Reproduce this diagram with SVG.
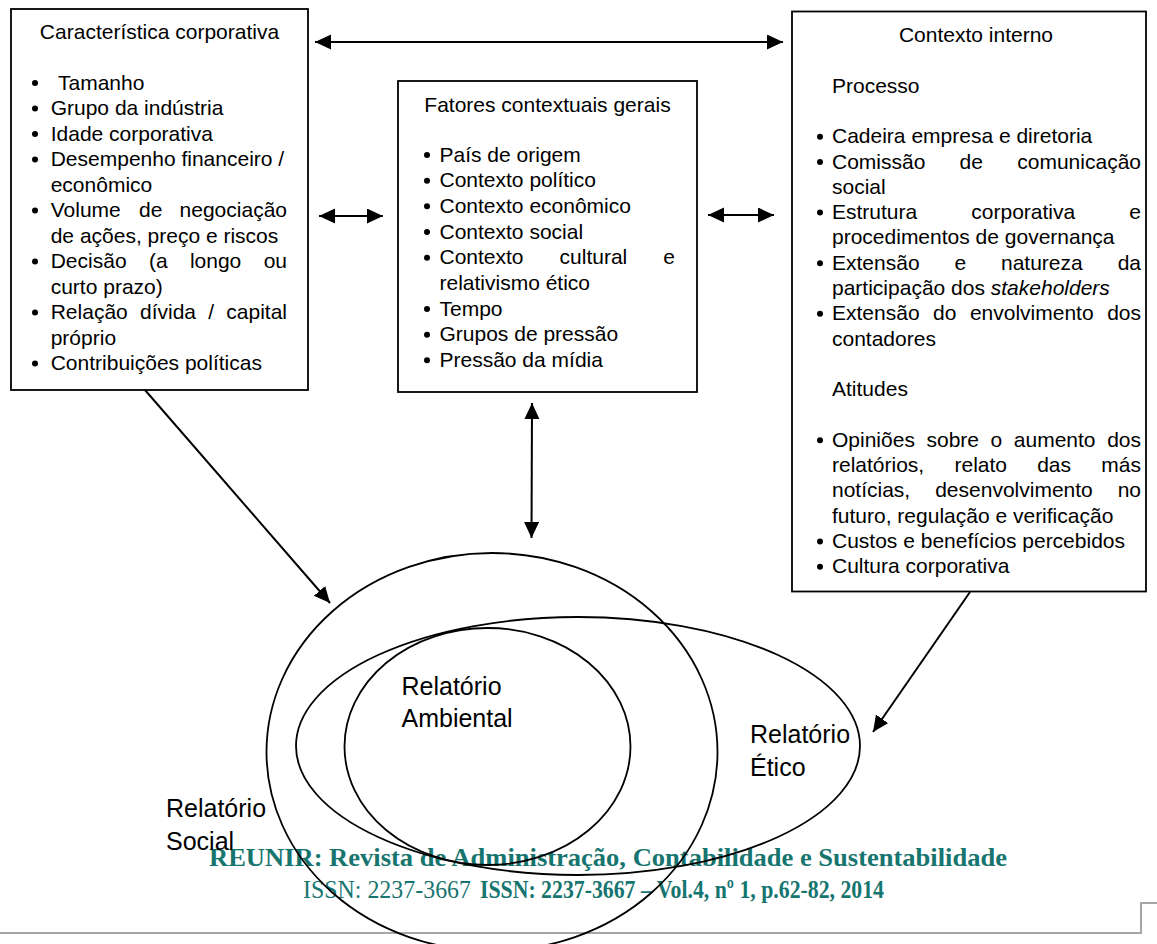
<svg xmlns="http://www.w3.org/2000/svg" width="1157" height="944" viewBox="0 0 1157 944">
<style>
.t{font-family:"Liberation Sans",Arial,sans-serif;font-size:21px;fill:#000}
.lbl{font-family:"Liberation Sans",Arial,sans-serif;font-size:25px;fill:#000}
.box{fill:#fff;stroke:#000;stroke-width:1.8}
.b{fill:#000}
.shape{fill:none;stroke:#000;stroke-width:1.8}
.conn{fill:none;stroke:#000;stroke-width:2}
.foot{font-family:"Liberation Serif","Times New Roman",serif;font-size:26px;fill:#17756f}
</style>
<defs>
<marker id="ah" markerUnits="userSpaceOnUse" markerWidth="17" markerHeight="16" refX="16" refY="7.5" orient="auto-start-reverse" viewBox="0 0 17 16">
<path d="M0,0 L16,7.5 L0,15 z" fill="#000"/>
</marker>
</defs>
<rect width="1157" height="944" fill="#fff"/>

<g id="node-caracteristica">
<rect class="box" x="11" y="9" width="297" height="381"/>
<text class="t" x="159.5" y="39" text-anchor="middle">Característica corporativa</text>
<circle class="b" cx="35" cy="83" r="3"/><text class="t" x="58" y="89.5">Tamanho</text>
<circle class="b" cx="35" cy="108.5" r="3"/><text class="t" x="50.7" y="115">Grupo da indústria</text>
<circle class="b" cx="35" cy="134" r="3"/><text class="t" x="50.7" y="140.5">Idade corporativa</text>
<circle class="b" cx="35" cy="159.5" r="3"/><text class="t" x="50.7" y="166">Desempenho financeiro /</text>
<text class="t" x="50.7" y="191.5">econômico</text>
<circle class="b" cx="35" cy="210.5" r="3"/><text class="t" y="217"><tspan x="50.7">Volume</tspan><tspan x="139.1">de</tspan><tspan x="287" text-anchor="end">negociação</tspan></text>
<text class="t" x="50.7" y="242.5">de ações, preço e riscos</text>
<circle class="b" cx="35" cy="261.5" r="3"/><text class="t" y="268"><tspan x="50.7">Decisão</tspan><tspan x="148.9">(a</tspan><tspan x="189.9">longo</tspan><tspan x="287" text-anchor="end">ou</tspan></text>
<text class="t" x="50.7" y="293.5">curto prazo)</text>
<circle class="b" cx="35" cy="312.5" r="3"/><text class="t" y="319"><tspan x="50.7">Relação</tspan><tspan x="140">dívida</tspan><tspan x="208.2">/</tspan><tspan x="287" text-anchor="end">capital</tspan></text>
<text class="t" x="50.7" y="344.5">próprio</text>
<circle class="b" cx="35" cy="363.5" r="3"/><text class="t" x="50.7" y="370">Contribuições políticas</text>
</g>

<g id="node-fatores">
<rect class="box" x="398" y="81" width="299" height="311"/>
<text class="t" x="547.5" y="111.5" text-anchor="middle">Fatores contextuais gerais</text>
<circle class="b" cx="427" cy="155" r="3"/><text class="t" x="439.5" y="161.5">País de origem</text>
<circle class="b" cx="427" cy="180.7" r="3"/><text class="t" x="439.5" y="187.2">Contexto político</text>
<circle class="b" cx="427" cy="206.3" r="3"/><text class="t" x="439.5" y="212.8">Contexto econômico</text>
<circle class="b" cx="427" cy="232" r="3"/><text class="t" x="439.5" y="238.5">Contexto social</text>
<circle class="b" cx="427" cy="257.7" r="3"/><text class="t" y="264.2"><tspan x="439.5">Contexto</tspan><tspan x="559.6">cultural</tspan><tspan x="675" text-anchor="end">e</tspan></text>
<text class="t" x="439.5" y="289.8">relativismo ético</text>
<circle class="b" cx="427" cy="309" r="3"/><text class="t" x="439.5" y="315.5">Tempo</text>
<circle class="b" cx="427" cy="334.7" r="3"/><text class="t" x="439.5" y="341.2">Grupos de pressão</text>
<circle class="b" cx="427" cy="360.3" r="3"/><text class="t" x="439.5" y="366.8">Pressão da mídia</text>
</g>

<g id="node-contexto-interno">
<rect class="box" x="792" y="11.5" width="354" height="580"/>
<text class="t" x="976" y="42" text-anchor="middle">Contexto interno</text>
<text class="t" x="832" y="92.6">Processo</text>
<circle class="b" cx="820" cy="136.7" r="3"/><text class="t" x="832" y="143.2">Cadeira empresa e diretoria</text>
<circle class="b" cx="820" cy="162" r="3"/><text class="t" y="168.5"><tspan x="832">Comissão</tspan><tspan x="959.6">de</tspan><tspan x="1141" text-anchor="end">comunicação</tspan></text>
<text class="t" x="832" y="193.8">social</text>
<circle class="b" cx="820" cy="212.6" r="3"/><text class="t" y="219.1"><tspan x="832">Estrutura</tspan><tspan x="971.3">corporativa</tspan><tspan x="1141" text-anchor="end">e</tspan></text>
<text class="t" x="832" y="244.4">procedimentos de governança</text>
<circle class="b" cx="820" cy="263.2" r="3"/><text class="t" y="269.7"><tspan x="832">Extensão</tspan><tspan x="954.5">e</tspan><tspan x="1001">natureza</tspan><tspan x="1141" text-anchor="end">da</tspan></text>
<text class="t" x="832" y="295">participação dos <tspan font-style="italic">stakeholders</tspan></text>
<circle class="b" cx="820" cy="313.8" r="3"/><text class="t" y="320.3"><tspan x="832">Extensão</tspan><tspan x="933">do</tspan><tspan x="969.9">envolvimento</tspan><tspan x="1141" text-anchor="end">dos</tspan></text>
<text class="t" x="832" y="345.6">contadores</text>
<text class="t" x="832" y="396.2">Atitudes</text>
<circle class="b" cx="820" cy="440.3" r="3"/><text class="t" y="446.8"><tspan x="832">Opiniões</tspan><tspan x="926.5">sobre</tspan><tspan x="990.6">o</tspan><tspan x="1013.8">aumento</tspan><tspan x="1141" text-anchor="end">dos</tspan></text>
<text class="t" y="472.1"><tspan x="832">relatórios,</tspan><tspan x="954.5">relato</tspan><tspan x="1037.2">das</tspan><tspan x="1141" text-anchor="end">más</tspan></text>
<text class="t" y="497.4"><tspan x="832">notícias,</tspan><tspan x="935.2">desenvolvimento</tspan><tspan x="1141" text-anchor="end">no</tspan></text>
<text class="t" x="832" y="522.7">futuro, regulação e verificação</text>
<circle class="b" cx="820" cy="541.5" r="3"/><text class="t" x="832" y="548">Custos e benefícios percebidos</text>
<circle class="b" cx="820" cy="566.8" r="3"/><text class="t" x="832" y="573.3">Cultura corporativa</text>
</g>

<g id="footer">
<text class="foot" x="209" y="866" font-weight="bold" textLength="798" lengthAdjust="spacingAndGlyphs">REUNIR: Revista de Administração, Contabilidade e Sustentabilidade</text>
<text class="foot" x="303" y="898" textLength="168" lengthAdjust="spacingAndGlyphs">ISSN: 2237-3667</text>
<text class="foot" x="480" y="898" font-weight="bold" textLength="404" lengthAdjust="spacingAndGlyphs">ISSN: 2237-3667 – Vol.4, nº 1, p.62-82, 2014</text>
<path d="M0,933 L1141,933 L1141,903 L1157,903" fill="none" stroke="#a6a6a6" stroke-width="2"/>
</g>

<g id="node-social">
<ellipse class="shape" cx="492" cy="752" rx="225.5" ry="199"/>
<text class="lbl" x="166" y="817">Relatório</text>
<text class="lbl" x="166" y="850">Social</text>
</g>
<g id="node-etico">
<ellipse class="shape" cx="578" cy="746" rx="282" ry="129"/>
<text class="lbl" x="750" y="743">Relatório</text>
<text class="lbl" x="750" y="776">Ético</text>
</g>
<g id="node-ambiental">
<ellipse class="shape" cx="487.5" cy="746.5" rx="143" ry="118.5"/>
<text class="lbl" x="401.5" y="695">Relatório</text>
<text class="lbl" x="401.5" y="727">Ambiental</text>
</g>

<g id="connectors">
<line class="conn" x1="315" y1="42" x2="783" y2="42" marker-start="url(#ah)" marker-end="url(#ah)"/>
<line class="conn" x1="319" y1="216" x2="383" y2="216" marker-start="url(#ah)" marker-end="url(#ah)"/>
<line class="conn" x1="708" y1="215" x2="774" y2="215" marker-start="url(#ah)" marker-end="url(#ah)"/>
<line class="conn" x1="532" y1="403" x2="531.5" y2="538" marker-start="url(#ah)" marker-end="url(#ah)"/>
<line class="conn" x1="145" y1="390" x2="330" y2="603" marker-end="url(#ah)"/>
<line class="conn" x1="970" y1="592" x2="873" y2="732" marker-end="url(#ah)"/>
</g>
</svg>
